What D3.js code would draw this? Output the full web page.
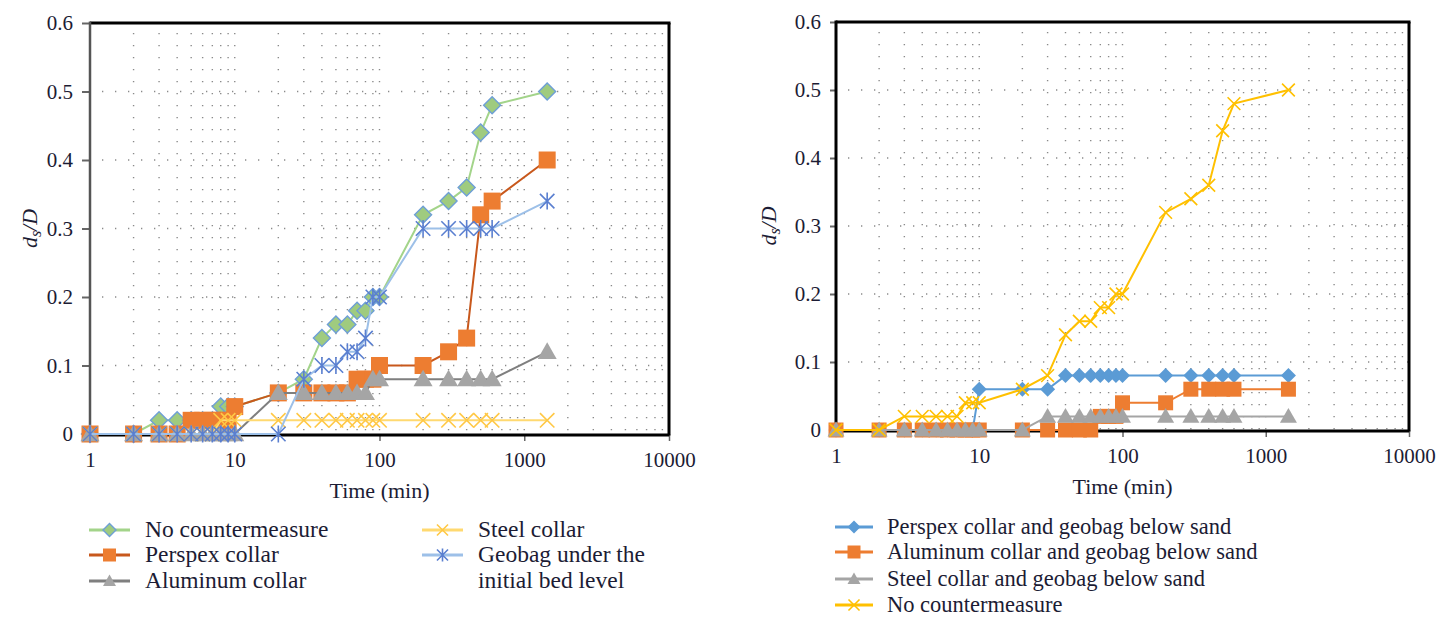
<!DOCTYPE html>
<html>
<head>
<meta charset="utf-8">
<script src="https://cdnjs.cloudflare.com/ajax/libs/d3/7.8.5/d3.min.js"></script>
<style>
	body { margin: 0; background: #fff; }
	svg text { fill: #1c1c34; }
	.grid { stroke: #8a8a8a; stroke-width: 1.4; fill: none; }
</style>
</head>
<body>
<div class="box"></div>
<script>
// time steps (min), shared by every series
var times = [1, 2, 3, 4, 5, 6, 7, 8, 9, 10, 20, 30, 40, 50, 60, 70, 80, 90, 100, 200, 300, 400, 500, 600, 1440];

// left chart: ds/D
var noCounter   = [0, 0, 0.02, 0.02, 0.02, 0.02, 0.02, 0.04, 0.04, 0.04, 0.06, 0.08, 0.14, 0.16, 0.16, 0.18, 0.18, 0.2, 0.2, 0.32, 0.34, 0.36, 0.44, 0.48, 0.5];
var perspex     = [0, 0, 0, 0, 0.02, 0.02, 0.02, 0.02, 0.02, 0.04, 0.06, 0.06, 0.06, 0.06, 0.06, 0.08, 0.08, 0.08, 0.1, 0.1, 0.12, 0.14, 0.32, 0.34, 0.4];
var aluminum    = [0, 0, 0, 0, 0, 0, 0, 0, 0, 0, 0.06, 0.06, 0.06, 0.06, 0.06, 0.06, 0.06, 0.08, 0.08, 0.08, 0.08, 0.08, 0.08, 0.08, 0.12];
var steel       = [0, 0, 0, 0, 0, 0, 0, 0.02, 0.02, 0.02, 0.02, 0.02, 0.02, 0.02, 0.02, 0.02, 0.02, 0.02, 0.02, 0.02, 0.02, 0.02, 0.02, 0.02, 0.02];
var geobag      = [0, 0, 0, 0, 0, 0, 0, 0, 0, 0, 0, 0.08, 0.1, 0.1, 0.12, 0.12, 0.14, 0.2, 0.2, 0.3, 0.3, 0.3, 0.3, 0.3, 0.34];

// right chart: ds/D
var perspexGeo  = [0, 0, 0, 0, 0, 0, 0, 0, 0, 0.06, 0.06, 0.06, 0.08, 0.08, 0.08, 0.08, 0.08, 0.08, 0.08, 0.08, 0.08, 0.08, 0.08, 0.08, 0.08];
var aluminumGeo = [0, 0, 0, 0, 0, 0, 0, 0, 0, 0, 0, 0, 0, 0, 0, 0.02, 0.02, 0.02, 0.04, 0.04, 0.06, 0.06, 0.06, 0.06, 0.06];
var steelGeo    = [0, 0, 0, 0, 0, 0, 0, 0, 0, 0, 0, 0.02, 0.02, 0.02, 0.02, 0.02, 0.02, 0.02, 0.02, 0.02, 0.02, 0.02, 0.02, 0.02, 0.02];
var noCounterR  = noCounter;

var xTicks = [1, 10, 100, 1000, 10000];
var yTicks = [0, 0.1, 0.2, 0.3, 0.4, 0.5, 0.6];

var serif = "'Liberation Serif', 'DejaVu Serif', serif";

var leftSeries = [
	{name: 'No countermeasure', values: noCounter, marker: 'diamond', fill: '#9fcb7f', stroke: '#6e9fd6', line: '#a3d48a'},
	{name: 'Perspex collar', values: perspex, marker: 'square', fill: '#ed7d31', stroke: 'none', line: '#c8581c'},
	{name: 'Aluminum collar', values: aluminum, marker: 'triangle', fill: '#a5a5a5', stroke: 'none', line: '#7f7f7f'},
	{name: 'Steel collar', values: steel, marker: 'x', fill: 'none', stroke: '#ffc845', line: '#ffd970'},
	{name: 'Geobag under the|initial bed level', values: geobag, marker: 'star', fill: 'none', stroke: '#5a7fd0', line: '#9dc0e8'}
];

var rightSeries = [
	{name: 'Perspex collar and geobag below sand', values: perspexGeo, marker: 'diamond', fill: '#5b9bd5', stroke: 'none', line: '#5b9bd5'},
	{name: 'Aluminum collar and geobag below sand', values: aluminumGeo, marker: 'square', fill: '#ed7d31', stroke: 'none', line: '#ed7d31'},
	{name: 'Steel collar and geobag below sand', values: steelGeo, marker: 'triangle', fill: '#a5a5a5', stroke: 'none', line: '#a5a5a5'},
	{name: 'No countermeasure', values: noCounterR, marker: 'x', fill: 'none', stroke: '#ffc000', line: '#ffc000'}
];

var width = 1441, height = 619;

var svg = d3.select('.box')
	.append('svg')
	.attr('width', width)
	.attr('height', height)
	.attr('font-family', serif);

function markerPath(type, r)
{
	if (type === 'diamond') return 'M0,' + (-r) + 'L' + r + ',0L0,' + r + 'L' + (-r) + ',0Z';
	if (type === 'square') return 'M' + (-r) + ',' + (-r) + 'H' + r + 'V' + r + 'H' + (-r) + 'Z';
	if (type === 'triangle') return 'M0,' + (-r) + 'L' + r + ',' + (r * 0.75) + 'L' + (-r) + ',' + (r * 0.75) + 'Z';
	var k = r * 0.85;
	var p = 'M' + (-k) + ',' + (-k) + 'L' + k + ',' + k + 'M' + k + ',' + (-k) + 'L' + (-k) + ',' + k;
	if (type === 'star') p += 'M0,' + (-r) + 'V' + r;
	return p;
}

function drawMarker(g, d, r)
{
	var open = d.marker === 'x' || d.marker === 'star';
	return g.append('path')
		.attr('d', markerPath(d.marker, r))
		.style('fill', open ? 'none' : d.fill)
		.style('stroke', d.stroke)
		.style('stroke-width', open ? 1.6 : 1.4);
}

function drawChart(opt)
{
	var x = d3.scaleLog().domain([1, 10000]).range([opt.left, opt.right]);
	var y = d3.scaleLinear().domain([0, 0.6]).range([opt.bottom, opt.top]);

	var g = svg.append('g');

	// vertical dotted grid at minor ticks
	var minor = [];
	[1, 10, 100, 1000].forEach(function(dec) {
		for (var i = 2; i <= 10; i++) minor.push(dec * i);
	});
	minor = minor.filter(function(v) { return v < 10000; });

	g.selectAll('line.vgrid')
		.data(minor)
		.enter()
		.append('line')
			.attr('class', 'grid vgrid')
			.attr('x1', function(d) { return x(d); })
			.attr('x2', function(d) { return x(d); })
			.attr('y1', opt.top + 10)
			.attr('y2', opt.bottom)
			.attr('stroke-dasharray', '1.3,10.7');

	g.selectAll('line.hgrid')
		.data(yTicks.slice(1, 6))
		.enter()
		.append('line')
			.attr('class', 'grid hgrid')
			.attr('x1', opt.left + 12)
			.attr('x2', opt.right)
			.attr('y1', function(d) { return y(d); })
			.attr('y2', function(d) { return y(d); })
			.attr('stroke-dasharray', '1.3,11.7');

	// axes
	var yAxis = g.append('g')
		.attr('transform', 'translate(' + opt.left + ',0)')
		.call(d3.axisLeft(y).tickValues(yTicks).tickSize(opt.yTick).tickPadding(9)
			.tickFormat(function(d) { return d === 0 ? '0' : d3.format('.1f')(d); }));
	yAxis.attr('font-family', null).attr('font-size', null);
	yAxis.select('.domain').remove();
	yAxis.selectAll('line').style('stroke', '#666').style('stroke-width', 2);
	yAxis.selectAll('text').style('font-size', '21px').style('fill', '#1c1c34');

	var xAxis = g.append('g')
		.attr('transform', 'translate(0,' + opt.bottom + ')')
		.call(d3.axisBottom(x).tickValues(xTicks).tickSize(7).tickPadding(opt.xPad)
			.tickFormat(d3.format('d')));
	xAxis.attr('font-family', null).attr('font-size', null);
	xAxis.select('.domain').remove();
	xAxis.selectAll('line').style('stroke', '#666').style('stroke-width', 1.5);
	xAxis.selectAll('text').style('font-size', '21px').style('fill', '#1c1c34');

	// frame
	g.append('line')
		.attr('x1', opt.left).attr('x2', opt.right + 1.5)
		.attr('y1', opt.top).attr('y2', opt.top)
		.style('stroke', '#000').style('stroke-width', 3);
	g.append('line')
		.attr('x1', opt.right).attr('x2', opt.right)
		.attr('y1', opt.top).attr('y2', opt.bottom + 1.5)
		.style('stroke', '#000').style('stroke-width', 3);
	g.append('line')
		.attr('x1', opt.left).attr('x2', opt.right)
		.attr('y1', opt.bottom + 1).attr('y2', opt.bottom + 1)
		.style('stroke', '#000').style('stroke-width', 3);
	g.append('line')
		.attr('x1', opt.left).attr('x2', opt.left)
		.attr('y1', opt.top - 1.5).attr('y2', opt.bottom + 2)
		.style('stroke', opt.leftAxisColor).style('stroke-width', opt.leftAxisWidth);

	// axis titles
	g.append('text')
		.attr('x', (opt.left + opt.right) / 2)
		.attr('y', opt.bottom + 64)
		.attr('text-anchor', 'middle')
		.style('font-size', '22px')
		.text('Time (min)');

	var yt = g.append('text')
		.attr('transform', 'translate(' + opt.yTitleX + ',' + ((opt.top + opt.bottom) / 2) + ') rotate(-90)')
		.attr('text-anchor', 'middle')
		.style('font-size', '22px')
		.style('font-style', 'italic');
	yt.append('tspan').text('d');
	yt.append('tspan').attr('dy', 4).style('font-size', '16px').text('s');
	yt.append('tspan').attr('dy', -4).text('/D');

	// series
	var line = d3.line()
		.x(function(d) { return x(d.t); })
		.y(function(d) { return y(d.v); });

	opt.series.forEach(function(s) {
		var pts = times.map(function(t, i) { return {t: t, v: s.values[i]}; });
		var sg = g.append('g');
		sg.append('path')
			.datum(pts)
			.attr('d', line)
			.style('fill', 'none')
			.style('stroke', s.line)
			.style('stroke-width', 2);
		pts.forEach(function(p) {
			var mg = sg.append('g').attr('transform', 'translate(' + x(p.t) + ',' + y(p.v) + ')');
			drawMarker(mg, s, s.marker === 'triangle' ? opt.mk + 1 : opt.mk);
		});
	});

	// legend
	opt.legend.forEach(function(it) {
		var s = opt.series[it.i];
		var lg = g.append('g').attr('transform', 'translate(' + it.x + ',' + it.y + ')');
		lg.append('line')
			.attr('x1', 0).attr('x2', opt.symW)
			.attr('y1', 0).attr('y2', 0)
			.style('stroke', s.line)
			.style('stroke-width', 3);
		var mg = lg.append('g').attr('transform', 'translate(' + (opt.symW / 2) + ',0)');
		drawMarker(mg, s, 6.5);
		var lines = s.name.split('|');
		lines.forEach(function(txt, k) {
			lg.append('text')
				.attr('x', opt.textGap)
				.attr('y', 7 + k * 26)
				.style('font-size', opt.legendFont)
				.text(txt);
		});
	});
}

drawChart({
	left: 90, right: 669, top: 23, bottom: 434,
	leftAxisColor: '#555', leftAxisWidth: 2.5,
	yTick: 8, xPad: 11, yTitleX: 37, mk: 8.5,
	symW: 41, textGap: 56, legendFont: '23.5px',
	series: leftSeries,
	legend: [
		{i: 0, x: 89, y: 530},
		{i: 1, x: 89, y: 555},
		{i: 2, x: 89, y: 581},
		{i: 3, x: 422, y: 530},
		{i: 4, x: 422, y: 555}
	]
});

drawChart({
	left: 836, right: 1409, top: 22, bottom: 430,
	leftAxisColor: '#000', leftAxisWidth: 3,
	yTick: 6, xPad: 11, yTitleX: 776, mk: 7.5,
	symW: 38, textGap: 52, legendFont: '22.5px',
	series: rightSeries,
	legend: [
		{i: 0, x: 835, y: 527},
		{i: 1, x: 835, y: 552},
		{i: 2, x: 835, y: 579},
		{i: 3, x: 835, y: 605}
	]
});
</script>
</body>
</html>
